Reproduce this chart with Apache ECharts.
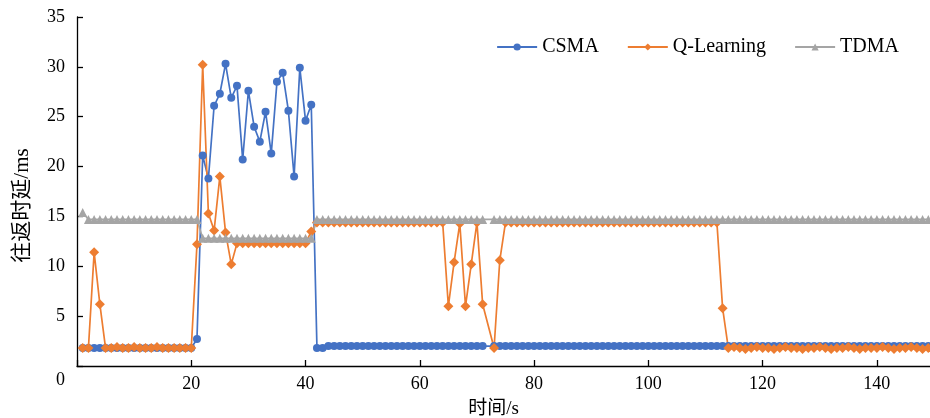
<!DOCTYPE html>
<html>
<head>
<meta charset="utf-8">
<script src="https://cdn.jsdelivr.net/npm/echarts@6/dist/echarts.min.js"></script>
<style>html,body{margin:0;padding:0;background:#fff}#c{width:930px;height:418px}</style>
</head>
<body>
<div id="c"></div>
<script>
// time axis (seconds), one sample per second
var times = [];
for (var i = 1; i <= 149; i++) times.push(i);

var seriesNames = ['CSMA', 'Q-Learning', 'TDMA'];

var csma = [
  1.8,1.8,1.8,1.8,1.8,1.8,1.8,1.8,1.8,1.8,
  1.8,1.8,1.8,1.8,1.8,1.8,1.8,1.8,1.8,1.8,
  2.7,21.1,18.8,26.1,27.3,30.3,26.9,28.1,20.7,27.6,
  24.0,22.5,25.5,21.3,28.5,29.4,25.6,19.0,29.9,24.6,
  26.2,1.8,1.8,2.0,2.0,2.0,2.0,2.0,2.0,2.0,
  2.0,2.0,2.0,2.0,2.0,2.0,2.0,2.0,2.0,2.0,
  2.0,2.0,2.0,2.0,2.0,2.0,2.0,2.0,2.0,2.0,
  2.0,null,2.0,2.0,2.0,2.0,2.0,2.0,2.0,2.0,
  2.0,2.0,2.0,2.0,2.0,2.0,2.0,2.0,2.0,2.0,
  2.0,2.0,2.0,2.0,2.0,2.0,2.0,2.0,2.0,2.0,
  2.0,2.0,2.0,2.0,2.0,2.0,2.0,2.0,2.0,2.0,
  2.0,2.0,2.0,2.0,2.0,2.0,2.0,2.0,2.0,2.0,
  2.0,2.0,2.0,2.0,2.0,2.0,2.0,2.0,2.0,2.0,
  2.0,2.0,2.0,2.0,2.0,2.0,2.0,2.0,2.0,2.0,
  2.0,2.0,2.0,2.0,2.0,2.0,2.0,2.0,2.0
];

var qlearning = [
  1.8,1.8,11.4,6.2,1.8,1.8,1.9,1.8,1.8,1.9,
  1.8,1.8,1.8,1.9,1.8,1.8,1.8,1.8,1.8,1.8,
  12.2,30.2,15.3,13.6,19.0,13.4,10.2,12.3,12.3,12.3,
  12.3,12.3,12.3,12.3,12.3,12.3,12.3,12.3,12.3,12.3,
  13.5,14.4,14.4,14.4,14.4,14.4,14.4,14.4,14.4,14.4,
  14.4,14.4,14.4,14.4,14.4,14.4,14.4,14.4,14.4,14.4,
  14.4,14.4,14.4,14.4,6.0,10.4,14.3,6.0,10.2,14.4,
  6.2,null,1.8,10.6,14.4,14.4,14.4,14.4,14.4,14.4,
  14.4,14.4,14.4,14.4,14.4,14.4,14.4,14.4,14.4,14.4,
  14.4,14.4,14.4,14.4,14.4,14.4,14.4,14.4,14.4,14.4,
  14.4,14.4,14.4,14.4,14.4,14.4,14.4,14.4,14.4,14.4,
  14.4,14.4,5.8,1.8,1.9,1.8,1.7,1.8,1.9,1.8,
  1.8,1.7,1.8,1.9,1.8,1.8,1.7,1.8,1.8,1.9,
  1.8,1.7,1.8,1.8,1.9,1.8,1.7,1.8,1.8,1.8,
  1.9,1.8,1.7,1.8,1.8,1.9,1.8,1.7,1.8
];

var tdma = [
  15.4,14.7,14.7,14.7,14.7,14.7,14.7,14.7,14.7,14.7,
  14.7,14.7,14.7,14.7,14.7,14.7,14.7,14.7,14.7,14.7,
  14.7,12.8,12.8,12.8,12.8,12.8,12.8,12.8,12.8,12.8,
  12.8,12.8,12.8,12.8,12.8,12.8,12.8,12.8,12.8,12.8,
  12.8,14.7,14.7,14.7,14.7,14.7,14.7,14.7,14.7,14.7,
  14.7,14.7,14.7,14.7,14.7,14.7,14.7,14.7,14.7,14.7,
  14.7,14.7,14.7,14.7,14.7,14.7,14.7,14.7,14.7,14.7,
  14.7,null,14.7,14.7,14.7,14.7,14.7,14.7,14.7,14.7,
  14.7,14.7,14.7,14.7,14.7,14.7,14.7,14.7,14.7,14.7,
  14.7,14.7,14.7,14.7,14.7,14.7,14.7,14.7,14.7,14.7,
  14.7,14.7,14.7,14.7,14.7,14.7,14.7,14.7,14.7,14.7,
  14.7,14.7,14.7,14.7,14.7,14.7,14.7,14.7,14.7,14.7,
  14.7,14.7,14.7,14.7,14.7,14.7,14.7,14.7,14.7,14.7,
  14.7,14.7,14.7,14.7,14.7,14.7,14.7,14.7,14.7,14.7,
  14.7,14.7,14.7,14.7,14.7,14.7,14.7,14.7,14.7
];

var xTicks = [0, 20, 40, 60, 80, 100, 120, 140];
var yTicks = [0, 5, 10, 15, 20, 25, 30, 35];

function pairs(vals) {
  return times.map(function (t, i) { return [t, vals[i] == null ? '-' : vals[i]]; });
}

var serif = '"Liberation Serif", "Times New Roman", serif';
var cjk = '"Liberation Serif", "Noto Sans CJK SC", serif';

var chart = echarts.init(document.getElementById('c'), null, { renderer: 'canvas' });
chart.setOption({
  animation: false,
  backgroundColor: '#fff',
  grid: { left: 77, right: -4, top: 17, bottom: 52, containLabel: false, outerBoundsMode: 'none' },
  legend: {
    right: 26, top: 32,
    itemWidth: 40, itemHeight: 9, itemGap: 28,
    textStyle: { fontFamily: serif, fontSize: 20, color: '#000' },
    data: seriesNames
  },
  xAxis: {
    type: 'value',
    min: xTicks[0], max: 150, interval: xTicks[1] - xTicks[0],
    name: '时间/s', nameLocation: 'middle', nameGap: 34,
    nameTextStyle: { fontFamily: cjk, fontSize: 19, color: '#000', padding: [0, 24, 0, 0] },
    axisLine: { show: true, lineStyle: { color: '#000', width: 1.3 } },
    axisTick: { show: true, inside: true, length: 6, lineStyle: { color: '#000', width: 1.3 } },
    axisLabel: {
      fontFamily: serif, fontSize: 18, color: '#000', margin: 9,
      showMaxLabel: false,
      formatter: function (v) { return v === 0 ? '' : String(v); }
    },
    splitLine: { show: false }
  },
  yAxis: {
    type: 'value',
    min: yTicks[0], max: yTicks[yTicks.length - 1], interval: yTicks[1] - yTicks[0],
    name: '往返时延/ms', nameLocation: 'middle', nameGap: 44,
    nameTextStyle: { fontFamily: cjk, fontSize: 21, color: '#000', padding: [0, 28, 0, 0] },
    axisLine: { show: true, lineStyle: { color: '#000', width: 1.3 } },
    axisTick: { show: true, inside: true, length: 6, lineStyle: { color: '#000', width: 1.3 } },
    axisLabel: {
      fontFamily: serif, fontSize: 18, color: '#000', margin: 12,
      formatter: function (v) { return v === 0 ? '{z|0}' : String(v); },
      rich: { z: { fontFamily: serif, fontSize: 18, color: '#000', padding: [28, 0, 0, 0] } }
    },
    splitLine: { show: false }
  },
  series: [
    {
      name: seriesNames[0], type: 'line', data: pairs(csma), connectNulls: true,
      symbol: 'circle', symbolSize: 8, showAllSymbol: true,
      itemStyle: { color: '#4472C4' }, lineStyle: { color: '#4472C4', width: 1.7 }
    },
    {
      name: seriesNames[1], type: 'line', data: pairs(qlearning), connectNulls: true,
      symbol: 'diamond', symbolSize: 10, showAllSymbol: true,
      itemStyle: { color: '#ED7D31' }, lineStyle: { color: '#ED7D31', width: 1.7 }
    },
    {
      name: seriesNames[2], type: 'line', data: pairs(tdma), connectNulls: true,
      symbol: 'triangle', symbolSize: 9, showAllSymbol: true,
      itemStyle: { color: '#A5A5A5' }, lineStyle: { color: '#A5A5A5', width: 1.7 }
    }
  ]
});
</script>
</body>
</html>
